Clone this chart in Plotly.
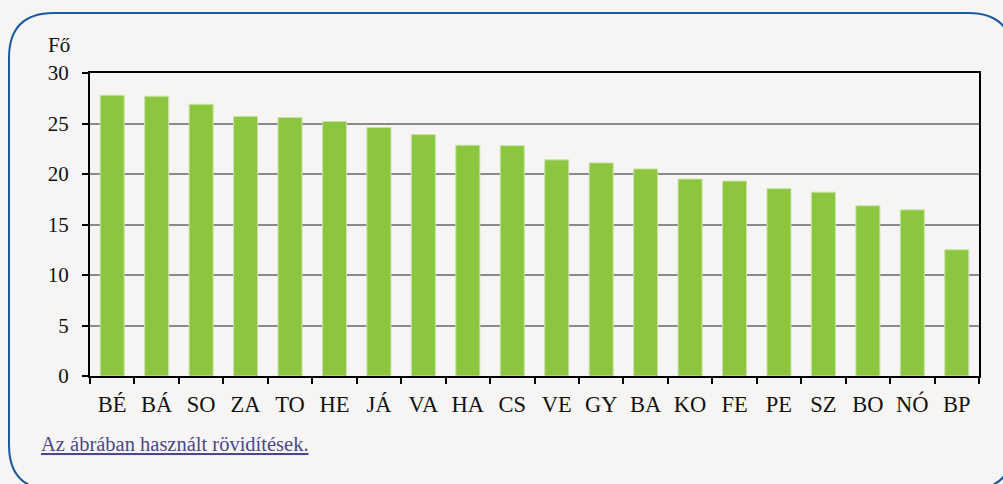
import plotly.graph_objects as go

categories = ["BÉ", "BÁ", "SO", "ZA", "TO", "HE", "JÁ", "VA", "HA", "CS",
              "VE", "GY", "BA", "KO", "FE", "PE", "SZ", "BO", "NÓ", "BP"]
values = [27.8, 27.7, 26.9, 25.7, 25.6, 25.2, 24.6, 23.9, 22.85, 22.8,
          21.4, 21.1, 20.5, 19.5, 19.3, 18.55, 18.2, 16.85, 16.45, 12.5]
y_ticks = [0, 5, 10, 15, 20, 25, 30]

W, H = 1003, 484
ML, MR, MT, MB = 90, 24, 73, 108
PW, PH = W - ML - MR, H - MT - MB

def px(x):
    return (x - ML) / PW

def py(y):
    return (H - MB - y) / PH

FONT = "Liberation Serif"
BG = "#f6f5f3"

fig = go.Figure()
fig.add_trace(go.Bar(
    x=categories, y=values,
    marker=dict(color="#8cc63f", line=dict(color="#c8e2a6", width=1)),
    width=0.54,
))

# rounded border box
x0, y0, x1, y1, r = 9, 13, 1013, 490, 45
path = (f"M {px(x0+r)},{py(y0)} L {px(x1-r)},{py(y0)} "
        f"Q {px(x1)},{py(y0)} {px(x1)},{py(y0+r)} "
        f"L {px(x1)},{py(y1-r)} Q {px(x1)},{py(y1)} {px(x1-r)},{py(y1)} "
        f"L {px(x0+r)},{py(y1)} Q {px(x0)},{py(y1)} {px(x0)},{py(y1-r)} "
        f"L {px(x0)},{py(y0+r)} Q {px(x0)},{py(y0)} {px(x0+r)},{py(y0)} Z")
fig.add_shape(type="path", path=path, xref="paper", yref="paper",
              line=dict(color="#1b5b9c", width=2), layer="below")

fig.add_annotation(text="Fő", xref="paper", yref="paper",
                   x=px(46), y=py(45), xanchor="left", yanchor="middle",
                   showarrow=False, font=dict(family=FONT, size=21, color="#111"))
fig.add_annotation(text="<u>Az ábrában használt rövidítések.</u>",
                   xref="paper", yref="paper",
                   x=px(39), y=py(444), xanchor="left", yanchor="middle",
                   showarrow=False, font=dict(family=FONT, size=20.5, color="#4a478c"))

fig.update_layout(
    width=W, height=H,
    margin=dict(l=ML, r=MR, t=MT, b=MB),
    paper_bgcolor=BG, plot_bgcolor=BG,
    showlegend=False,
    font=dict(family=FONT, size=21, color="#111"),
    xaxis=dict(showline=True, linecolor="#000", linewidth=2, mirror=True,
               ticks="outside", ticklen=6, tickcolor="#000", tickwidth=2,
               tickson="boundaries", showgrid=False, ticklabelstandoff=7,
               tickfont=dict(family=FONT, size=22.5, color="#111")),
    yaxis=dict(range=[0, 30], tickvals=y_ticks, showline=True, linecolor="#000",
               linewidth=2, mirror=True, ticks="outside", ticklen=6,
               tickcolor="#000", tickwidth=2, showgrid=True, gridcolor="#8a8a8a",
               gridwidth=1.5, zeroline=False, ticklabelstandoff=9,
               tickfont=dict(family=FONT, size=21, color="#111")),
)

fig.write_html("out.html", config={"displayModeBar": False},
               post_script="document.body.style.margin='0';document.body.style.background='%s';" % BG)
